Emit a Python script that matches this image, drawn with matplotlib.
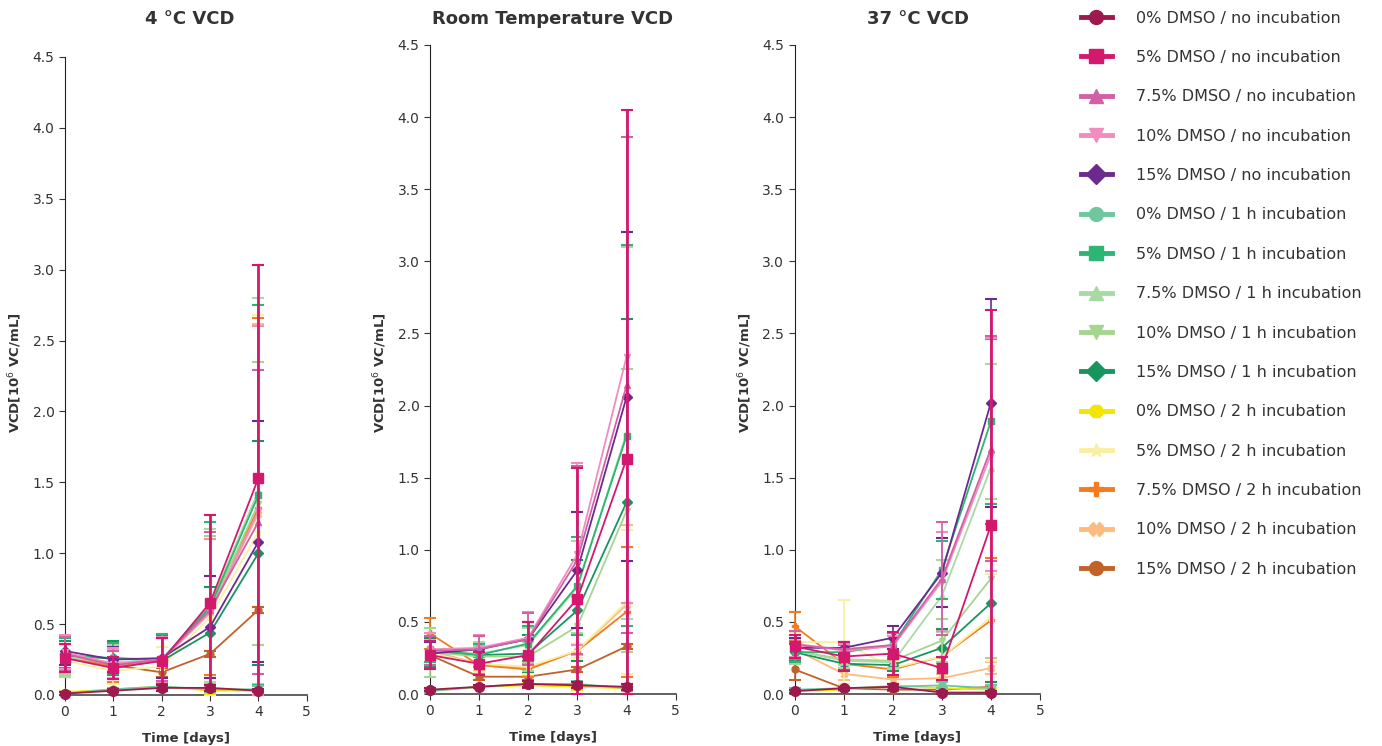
import numpy as np
import matplotlib
matplotlib.use("Agg")
import matplotlib.pyplot as plt

days = [0, 1, 2, 3, 4]

labels = [
    "0% DMSO / no incubation", "5% DMSO / no incubation", "7.5% DMSO / no incubation",
    "10% DMSO / no incubation", "15% DMSO / no incubation",
    "0% DMSO / 1 h incubation", "5% DMSO / 1 h incubation", "7.5% DMSO / 1 h incubation",
    "10% DMSO / 1 h incubation", "15% DMSO / 1 h incubation",
    "0% DMSO / 2 h incubation", "5% DMSO / 2 h incubation", "7.5% DMSO / 2 h incubation",
    "10% DMSO / 2 h incubation", "15% DMSO / 2 h incubation",
]
colors = ["#9e1a4e", "#d3186e", "#d061a4", "#f08cbe", "#6d2a8e",
          "#6fc7a0", "#2bb673", "#a8dba4", "#a5d68f", "#18955f",
          "#f2e600", "#f8f0a0", "#f47b20", "#fdbb7e", "#c1622b"]
markers = ["o", "s", "^", "v", "D", "o", "s", "^", "v", "D", "8", "*", "P", "X", "o"]

titles = ["4 °C VCD", "Room Temperature VCD", "37 °C VCD"]

# mean VCD [10^6 VC/mL], one row per condition
vcd_4c = [
    [0.01, 0.03, 0.05, 0.05, 0.03],
    [0.26, 0.19, 0.24, 0.65, 1.53],
    [0.29, 0.21, 0.25, 0.60, 1.22],
    [0.30, 0.22, 0.25, 0.58, 1.30],
    [0.31, 0.25, 0.26, 0.48, 1.08],
    [0.01, 0.04, 0.06, 0.04, 0.04],
    [0.28, 0.26, 0.25, 0.62, 1.41],
    [0.27, 0.23, 0.25, 0.63, 1.44],
    [0.27, 0.22, 0.24, 0.60, 1.35],
    [0.27, 0.26, 0.24, 0.44, 1.00],
    [0.02, 0.04, 0.06, 0.03, 0.03],
    [0.24, 0.17, 0.20, 0.55, 1.15],
    [0.27, 0.20, 0.24, 0.62, 1.32],
    [0.28, 0.21, 0.24, 0.58, 1.28],
    [0.27, 0.21, 0.16, 0.29, 0.60],
]
sd_4c = [
    [0.01, 0.01, 0.02, 0.02, 0.01],
    [0.10, 0.08, 0.16, 0.62, 1.50],
    [0.12, 0.10, 0.15, 0.55, 1.07],
    [0.12, 0.11, 0.16, 0.52, 1.30],
    [0.10, 0.09, 0.14, 0.36, 0.85],
    [0.01, 0.01, 0.02, 0.02, 0.02],
    [0.12, 0.11, 0.18, 0.60, 1.34],
    [0.14, 0.12, 0.18, 0.54, 1.36],
    [0.13, 0.10, 0.17, 0.52, 1.00],
    [0.11, 0.12, 0.18, 0.32, 0.79],
    [0.01, 0.01, 0.02, 0.02, 0.01],
    [0.11, 0.09, 0.14, 0.57, 1.53],
    [0.14, 0.11, 0.16, 0.48, 1.34],
    [0.13, 0.10, 0.16, 0.52, 1.34],
    [0.08, 0.05, 0.03, 0.02, 0.02],
]
vcd_rt = [
    [0.03, 0.05, 0.07, 0.06, 0.05],
    [0.27, 0.21, 0.27, 0.66, 1.63],
    [0.30, 0.31, 0.38, 0.93, 2.14],
    [0.31, 0.32, 0.39, 0.97, 2.34],
    [0.28, 0.31, 0.38, 0.86, 2.06],
    [0.02, 0.05, 0.07, 0.07, 0.04],
    [0.31, 0.27, 0.35, 0.75, 1.79],
    [0.30, 0.28, 0.34, 0.74, 1.81],
    [0.29, 0.26, 0.26, 0.47, 1.27],
    [0.29, 0.27, 0.28, 0.58, 1.33],
    [0.02, 0.05, 0.06, 0.05, 0.04],
    [0.28, 0.21, 0.19, 0.30, 0.64],
    [0.42, 0.20, 0.17, 0.30, 0.57],
    [0.30, 0.21, 0.18, 0.30, 0.62],
    [0.27, 0.12, 0.12, 0.17, 0.33],
]
sd_rt = [
    [0.01, 0.01, 0.02, 0.02, 0.02],
    [0.10, 0.08, 0.23, 0.91, 2.42],
    [0.10, 0.09, 0.18, 0.65, 1.72],
    [0.11, 0.09, 0.18, 0.63, 1.71],
    [0.08, 0.09, 0.12, 0.40, 1.14],
    [0.01, 0.01, 0.02, 0.02, 0.02],
    [0.09, 0.08, 0.12, 0.34, 1.32],
    [0.10, 0.08, 0.12, 0.32, 1.29],
    [0.17, 0.07, 0.10, 0.20, 0.98],
    [0.10, 0.08, 0.13, 0.35, 1.27],
    [0.01, 0.01, 0.02, 0.02, 0.01],
    [0.08, 0.06, 0.05, 0.05, 0.50],
    [0.11, 0.06, 0.05, 0.05, 0.45],
    [0.08, 0.05, 0.05, 0.05, 0.55],
    [0.10, 0.02, 0.02, 0.02, 0.02],
]
vcd_37c = [
    [0.02, 0.04, 0.05, 0.01, 0.01],
    [0.33, 0.26, 0.28, 0.18, 1.17],
    [0.34, 0.31, 0.34, 0.80, 1.70],
    [0.35, 0.30, 0.33, 0.78, 1.66],
    [0.32, 0.32, 0.39, 0.84, 2.02],
    [0.03, 0.04, 0.05, 0.06, 0.04],
    [0.29, 0.29, 0.34, 0.86, 1.89],
    [0.30, 0.23, 0.22, 0.68, 1.57],
    [0.30, 0.24, 0.23, 0.37, 0.80],
    [0.29, 0.21, 0.20, 0.32, 0.63],
    [0.02, 0.03, 0.06, 0.04, 0.03],
    [0.36, 0.36, 0.18, 0.26, 0.53],
    [0.47, 0.21, 0.17, 0.26, 0.51],
    [0.31, 0.14, 0.10, 0.11, 0.18],
    [0.17, 0.04, 0.03, 0.03, 0.05],
]
sd_37c = [
    [0.01, 0.01, 0.02, 0.01, 0.01],
    [0.08, 0.10, 0.15, 0.08, 1.49],
    [0.10, 0.05, 0.08, 0.39, 0.78],
    [0.09, 0.05, 0.07, 0.34, 0.81],
    [0.07, 0.04, 0.08, 0.24, 0.72],
    [0.01, 0.01, 0.01, 0.02, 0.02],
    [0.07, 0.05, 0.06, 0.20, 0.57],
    [0.08, 0.05, 0.05, 0.25, 0.72],
    [0.09, 0.04, 0.05, 0.15, 0.55],
    [0.06, 0.04, 0.04, 0.13, 0.55],
    [0.01, 0.01, 0.01, 0.01, 0.01],
    [0.07, 0.29, 0.05, 0.06, 0.30],
    [0.10, 0.05, 0.05, 0.05, 0.43],
    [0.07, 0.04, 0.03, 0.03, 0.04],
    [0.07, 0.01, 0.01, 0.01, 0.01],
]

panels = [(vcd_4c, sd_4c), (vcd_rt, sd_rt), (vcd_37c, sd_37c)]
axes_rects = [
    [0.047, 0.0684, 0.175, 0.8552],
    [0.311, 0.0697, 0.178, 0.87],
    [0.575, 0.0697, 0.1775, 0.87],
]
title_x = [0.137, 0.400, 0.664]
ylabel_x = [0.011, 0.275, 0.539]

plt.rcParams["font.family"] = "DejaVu Sans"
text_col = "#333333"

fig = plt.figure(figsize=(13.82, 7.46), dpi=100)
handles = []
for p, (vals, sds) in enumerate(panels):
    ax = fig.add_axes(axes_rects[p])
    n = len(labels)
    for i in range(n):
        y = np.array(vals[i])
        err = np.array(sds[i])
        # bars are cut at the x axis
        lower = np.minimum(err, y)
        ms = 7 if i in (0, 1) else 5
        elw = 2.0 if i == 1 else 1.2
        z = 3 + (n - i)
        cont = ax.errorbar(days, y, yerr=[lower, err], color=colors[i], marker=markers[i],
                           markersize=ms, linewidth=1.3, elinewidth=elw, capsize=4,
                           capthick=1.5, zorder=z, clip_on=False)
        for art in cont.lines[1] + cont.lines[2]:
            art.set_clip_on(False)
        if p == 0:
            h, = ax.plot([], [], color=colors[i], marker=markers[i], markersize=10,
                         linewidth=3.5)
            handles.append(h)
    ax.set_xlim(0, 5)
    ax.set_ylim(0, 4.5)
    ax.set_xticks(range(6))
    ax.set_yticks(np.arange(0, 4.51, 0.5))
    ax.yaxis.set_major_formatter(matplotlib.ticker.FormatStrFormatter("%.1f"))
    for s in ("top", "right"):
        ax.spines[s].set_visible(False)
    ax.spines["left"].set_color("#222222")
    ax.spines["bottom"].set_color("#555555")
    ax.spines["bottom"].set_linewidth(1.3)
    ax.tick_params(direction="out", length=4, labelsize=10, colors=text_col)
    fig.text(title_x[p], 0.975, titles[p], ha="center", va="center",
             fontsize=13, fontweight="bold", color=text_col)
    fig.text(ylabel_x[p], 0.5, "VCD[10$^6$ VC/mL]", rotation=90, ha="center",
             va="center", fontsize=9.5, fontweight="bold", color=text_col)
    ax.set_xlabel("Time [days]", fontsize=9.5, fontweight="bold", color=text_col,
                  labelpad=9)

fig.legend(handles, labels, loc="upper left", bbox_to_anchor=(0.772, 1.005),
           frameon=False, fontsize=11.5, labelspacing=1.525, handlelength=1.9,
           handletextpad=1.5, labelcolor=text_col)

fig.savefig("out.png", dpi=100)
